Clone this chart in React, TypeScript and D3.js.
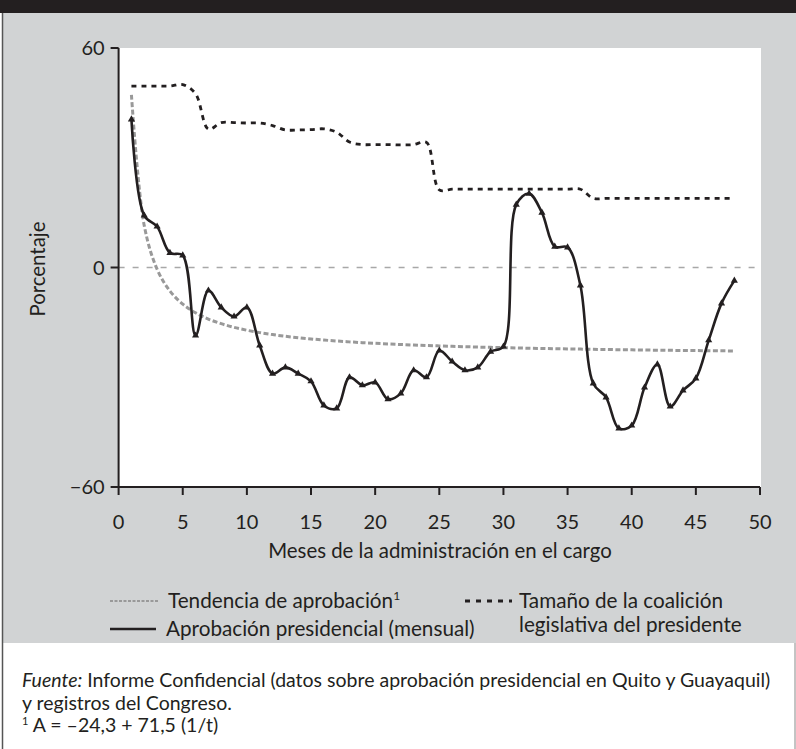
import React from "react";
import * as d3 from "d3";

const months = d3.range(1, 49);

const approval = [
  40.5, 14.2, 11.2, 4.0, 3.3, -18.6, -6.3, -10.9, -13.4, -10.9,
  -21.3, -29.0, -27.3, -29.0, -31.1, -37.7, -38.5, -30.0, -32.2, -31.4,
  -36.0, -34.4, -28.1, -30.0, -22.7, -25.7, -28.1, -27.3, -23.0, -21.6,
  17.2, 20.2, 15.0, 5.7, 5.5, -4.9, -31.7, -35.5, -44.0, -43.2,
  -32.8, -26.5, -38.0, -33.6, -30.3, -19.9, -9.8, -3.6,
];

const trend = [
  47.2, 11.45, -0.47, -6.43, -10.0, -12.38, -14.09, -15.36, -16.36, -17.15,
  -17.8, -18.34, -18.8, -19.19, -19.53, -19.83, -20.09, -20.33, -20.54, -20.73,
  -20.9, -21.05, -21.19, -21.32, -21.44, -21.55, -21.65, -21.75, -21.83, -21.92,
  -21.99, -22.07, -22.13, -22.2, -22.26, -22.31, -22.37, -22.42, -22.47, -22.51,
  -22.56, -22.6, -22.64, -22.68, -22.71, -22.75, -22.78, -22.81,
];

const coalition = [
  49.6, 49.6, 49.6, 49.6, 50.0, 47.5, 37.8, 39.6, 39.6, 39.5,
  39.5, 38.8, 37.6, 37.6, 37.7, 37.9, 37.0, 34.3, 33.6, 33.6,
  33.6, 33.5, 33.6, 34.2, 21.2, 21.4, 21.4, 21.4, 21.4, 21.4,
  21.4, 21.4, 21.4, 21.4, 21.4, 21.4, 18.9, 18.9, 18.9, 18.9,
  18.9, 18.9, 18.9, 18.9, 18.9, 18.9, 18.9, 18.9,
];

const xTicks = [0, 5, 10, 15, 20, 25, 30, 35, 40, 45, 50];
const yTicks = [-60, 0, 60];

const FONT = "Lato, 'Open Sans', sans-serif";

export default function App() {
  const x = d3.scaleLinear().domain([0, 50]).range([118.6, 760]);
  const y = d3.scaleLinear().domain([-60, 60]).range([487, 48]);

  const mk = (vals: number[]) =>
    d3
      .line<number>()
      .x((_, i) => x(months[i]))
      .y((d) => y(d))
      .curve(d3.curveCatmullRom.alpha(0.5))(vals) as string;

  const tri = d3.symbol().type(d3.symbolTriangle).size(22)() as string;

  return (
    <svg
      width={796}
      height={749}
      style={{ position: "absolute", left: 0, top: 0 }}
      fontFamily={FONT}
    >
      <rect x={0} y={0} width={796} height={749} fill="#fff" />
      {/* top bar */}
      <rect x={0} y={0} width={796} height={13} fill="#231f20" />
      {/* gray panel */}
      <rect x={2} y={13} width={794} height={630} fill="#d1d3d4" />
      <line x1={2.5} y1={13} x2={2.5} y2={749} stroke="#555" strokeWidth={1.5} />
      <line x1={795} y1={643} x2={795} y2={749} stroke="#888" strokeWidth={1} />

      {/* plot area */}
      <rect x={x(0)} y={y(60)} width={x(50) - x(0) + 1} height={y(-60) - y(60)} fill="#fff" />

      {/* zero line */}
      <line
        x1={x(0)}
        x2={x(50)}
        y1={y(0)}
        y2={y(0)}
        stroke="#a8a8a8"
        strokeWidth={1.6}
        strokeDasharray="6,8"
      />

      {/* coalition */}
      <path d={mk(coalition)} fill="none" stroke="#231f20" strokeWidth={2.8} strokeDasharray="5,5" />
      {/* trend */}
      <path d={mk(trend)} fill="none" stroke="#999999" strokeWidth={3} strokeDasharray="5,2.5" />
      {/* approval */}
      <path d={mk(approval)} fill="none" stroke="#231f20" strokeWidth={2.6} />
      {approval.map((v, i) => (
        <path key={i} d={tri} transform={`translate(${x(months[i])},${y(v)})`} fill="#231f20" />
      ))}

      {/* axes */}
      <line x1={x(0)} x2={x(0)} y1={y(60)} y2={y(-60)} stroke="#231f20" strokeWidth={2} />
      <line x1={x(0)} x2={x(50)} y1={y(-60)} y2={y(-60)} stroke="#231f20" strokeWidth={2} />
      {yTicks.map((t) => (
        <g key={t}>
          <line x1={x(0) - 8} x2={x(0)} y1={y(t)} y2={y(t)} stroke="#231f20" strokeWidth={2} />
          <text x={x(0) - 14} y={y(t) + 7} textAnchor="end" fontSize={20} fill="#231f20">
            {t < 0 ? "\u2212" + Math.abs(t) : t}
          </text>
        </g>
      ))}
      {xTicks.map((t) => (
        <g key={t}>
          <line x1={x(t)} x2={x(t)} y1={y(-60)} y2={y(-60) + 8} stroke="#231f20" strokeWidth={2} />
          <text x={x(t)} y={529} textAnchor="middle" fontSize={20} fill="#231f20">
            {t}
          </text>
        </g>
      ))}

      <text x={440} y={558} textAnchor="middle" fontSize={20.4} fill="#231f20">
        Meses de la administración en el cargo
      </text>
      <text
        transform={`translate(45,269) rotate(-90)`}
        textAnchor="middle"
        fontSize={20.4}
        fill="#231f20"
      >
        Porcentaje
      </text>

      {/* legend */}
      <line x1={110} x2={158} y1={601} y2={601} stroke="#999999" strokeWidth={2} strokeDasharray="3,1.5" />
      <text x={168} y={608} fontSize={20.7} fill="#231f20">
        Tendencia de aprobación
        <tspan fontSize={12} dy={-8}>1</tspan>
      </text>
      <line x1={465} x2={512} y1={601} y2={601} stroke="#231f20" strokeWidth={3} strokeDasharray="5,6" />
      <text x={519} y={608} fontSize={20.7} fill="#231f20">
        Tamaño de la coalición
      </text>
      <text x={519} y={632} fontSize={20.7} fill="#231f20">
        legislativa del presidente
      </text>
      <line x1={110} x2={156} y1={629} y2={629} stroke="#231f20" strokeWidth={2.6} />
      <text x={166} y={636} fontSize={20.7} fill="#231f20">
        Aprobación presidencial (mensual)
      </text>

      {/* footer */}
      <text x={22} y={687} fontSize={19.5} fill="#231f20">
        <tspan fontStyle="italic">Fuente:</tspan> Informe Confidencial (datos sobre aprobación presidencial en Quito y Guayaquil)
      </text>
      <text x={22} y={710} fontSize={19.5} fill="#231f20">
        y registros del Congreso.
      </text>
      <text x={22} y={732} fontSize={19.5} fill="#231f20">
        <tspan fontSize={11} dy={-7}>1</tspan>
        <tspan dy={7}> A = –24,3 + 71,5 (1/t)</tspan>
      </text>
    </svg>
  );
}
